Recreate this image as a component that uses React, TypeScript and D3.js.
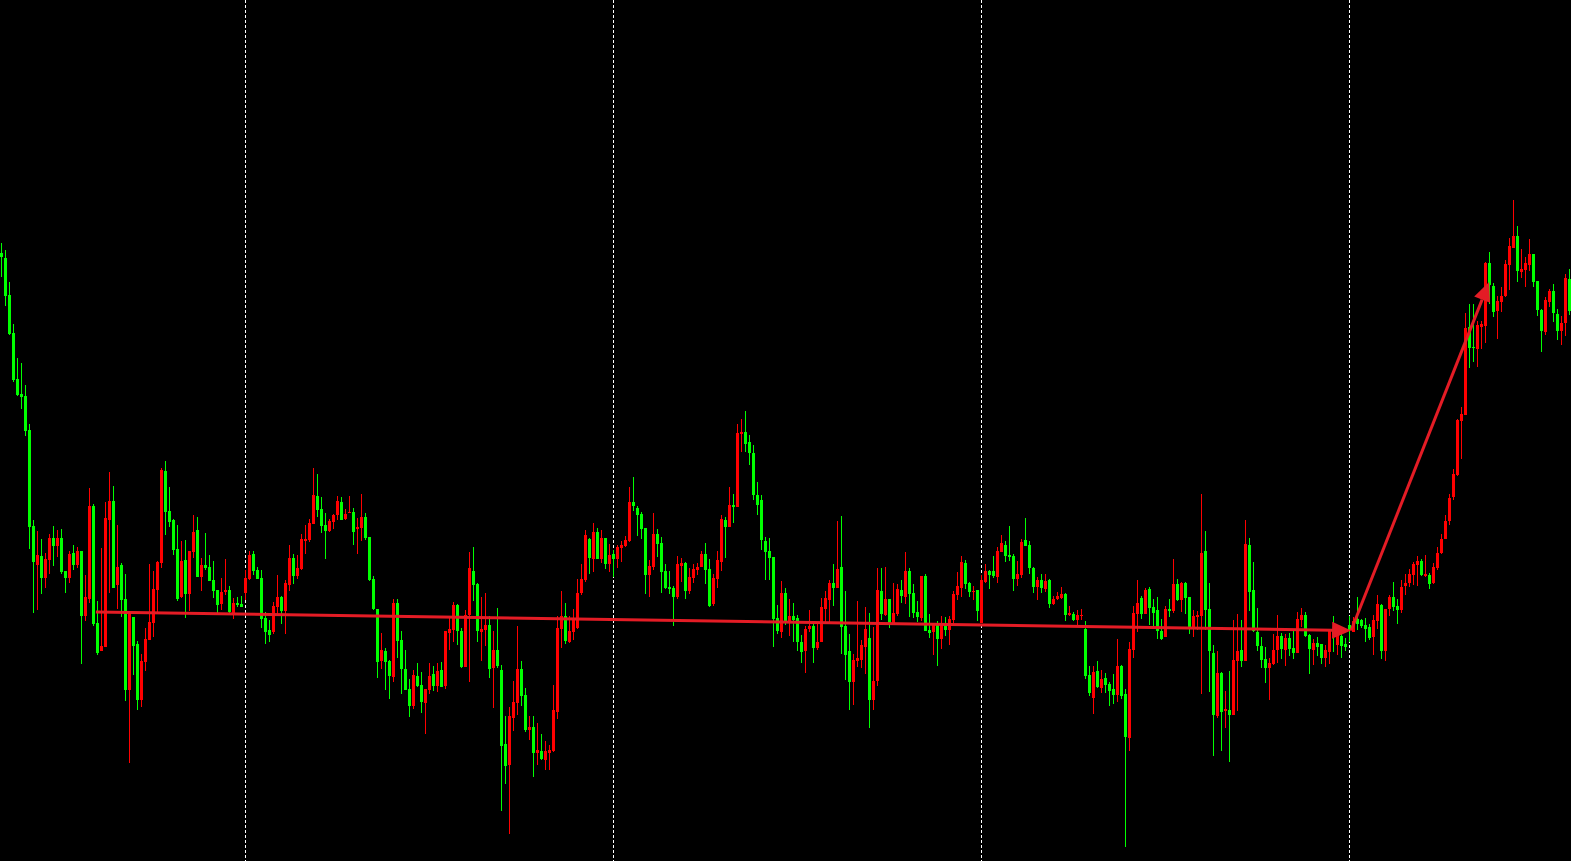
import React from "react";
import * as d3 from "d3";

const W = 1571;
const H = 861;

// price in points, one entry per bar (bar 0 = leftmost)
const opens = [
  747, 742, 705, 667, 621, 606, 604, 570, 474, 435, 444, 422, 440, 462, 454, 462, 429, 422, 447, 435,
  449, 384, 401, 494, 377, 349, 353, 480, 499, 415, 435, 401, 310, 383, 356, 300, 338, 360, 377, 410,
  437, 529, 489, 480, 451, 403, 440, 406, 448, 470, 423, 435, 433, 420, 410, 396, 408, 410, 387, 397,
  396, 407, 421, 446, 430, 422, 382, 370, 368, 393, 403, 389, 415, 442, 424, 431, 459, 460, 476, 504,
  491, 475, 469, 478, 485, 498, 481, 487, 488, 471, 472, 483, 463, 421, 391, 339, 349, 339, 323, 397,
  360, 331, 311, 294, 324, 315, 297, 310, 326, 314, 330, 314, 367, 370, 395, 369, 333, 385, 429, 416,
  368, 370, 375, 332, 350, 330, 256, 235, 282, 297, 331, 305, 270, 273, 247, 249, 240, 247, 249, 288,
  371, 384, 358, 368, 372, 407, 420, 461, 441, 468, 441, 462, 436, 446, 441, 452, 454, 459, 498, 492,
  486, 472, 425, 433, 466, 457, 429, 413, 412, 403, 434, 437, 409, 422, 430, 433, 446, 431, 396, 421,
  438, 480, 473, 495, 493, 566, 568, 558, 547, 505, 500, 459, 449, 443, 382, 368, 407, 377, 384, 382,
  358, 349, 371, 374, 352, 358, 391, 400, 417, 412, 433, 374, 349, 318, 339, 340, 353, 362, 300, 319,
  409, 385, 401, 376, 386, 410, 403, 429, 407, 388, 382, 424, 370, 368, 376, 361, 375, 370, 380, 405,
  412, 437, 417, 408, 410, 377, 418, 429, 429, 423, 448, 455, 445, 444, 421, 425, 460, 455, 432, 413,
  420, 411, 420, 396, 401, 402, 406, 385, 386, 380, 384, 371, 325, 302, 329, 312, 322, 316, 311, 305,
  334, 306, 262, 350, 386, 402, 386, 411, 393, 390, 369, 363, 391, 389, 416, 400, 417, 403, 371, 383,
  384, 449, 391, 347, 284, 327, 289, 290, 285, 339, 350, 339, 455, 410, 368, 354, 341, 332, 336, 350,
  364, 350, 362, 352, 347, 380, 385, 365, 350, 357, 356, 342, 348, 371, 355, 364, 356, 375, 368, 381,
  380, 375, 373, 363, 379, 395, 349, 391, 403, 394, 390, 414, 417, 425, 435, 439, 424, 425, 417, 432,
  447, 461, 479, 503, 525, 579, 585, 673, 653, 651, 673, 674, 737, 714, 689, 698, 704, 735, 752, 764,
  728, 730, 735, 746, 719, 690, 668, 698, 709, 686, 669, 677, 721,
];

const closes = [
  743, 704, 666, 620, 605, 603, 569, 473, 438, 445, 422, 441, 462, 454, 462, 428, 422, 446, 435, 449,
  384, 403, 494, 376, 347, 354, 482, 499, 412, 433, 400, 310, 387, 354, 300, 339, 361, 378, 411, 438,
  530, 488, 478, 450, 401, 439, 406, 449, 468, 423, 435, 432, 419, 409, 395, 408, 410, 388, 397, 395,
  393, 422, 445, 429, 421, 381, 368, 365, 394, 403, 389, 417, 442, 424, 432, 461, 461, 477, 505, 490,
  474, 469, 479, 485, 499, 480, 486, 488, 468, 473, 483, 462, 420, 391, 338, 350, 338, 324, 397, 359,
  331, 310, 294, 325, 314, 298, 311, 324, 314, 329, 313, 369, 371, 395, 369, 333, 385, 432, 415, 369,
  371, 375, 331, 350, 334, 254, 234, 284, 298, 331, 304, 270, 273, 247, 250, 241, 249, 250, 290, 372,
  384, 359, 369, 382, 407, 421, 465, 442, 468, 441, 462, 436, 445, 441, 453, 455, 460, 498, 494, 485,
  471, 425, 434, 466, 456, 428, 412, 411, 403, 436, 437, 409, 423, 431, 433, 446, 430, 394, 422, 440,
  481, 473, 495, 493, 567, 568, 556, 547, 505, 495, 460, 448, 442, 381, 369, 407, 377, 384, 380, 358,
  348, 371, 374, 352, 358, 393, 402, 417, 412, 431, 373, 345, 318, 340, 342, 355, 371, 300, 319, 410,
  386, 401, 376, 387, 411, 404, 429, 406, 387, 383, 424, 369, 367, 376, 361, 376, 370, 381, 406, 414,
  438, 416, 408, 409, 389, 420, 429, 425, 424, 449, 457, 444, 443, 421, 426, 458, 454, 432, 413, 420,
  412, 419, 396, 401, 404, 406, 385, 387, 380, 385, 385, 324, 307, 328, 313, 321, 315, 309, 305, 334,
  304, 263, 351, 387, 397, 386, 410, 392, 387, 369, 361, 391, 389, 416, 400, 417, 402, 371, 384, 385,
  447, 390, 349, 285, 327, 288, 291, 285, 340, 349, 339, 456, 408, 369, 354, 340, 332, 337, 350, 364,
  351, 362, 351, 347, 381, 385, 364, 351, 357, 353, 342, 350, 370, 365, 370, 354, 353, 370, 379, 376,
  374, 371, 362, 380, 396, 349, 391, 403, 393, 390, 413, 417, 426, 436, 439, 425, 426, 416, 433, 447,
  461, 479, 502, 526, 580, 586, 672, 652, 652, 675, 676, 737, 715, 688, 699, 704, 736, 754, 764, 729,
  731, 737, 746, 718, 690, 669, 700, 709, 687, 669, 677, 722, 689,
];

const highs = [
  757, 750, 718, 676, 642, 637, 615, 576, 480, 469, 461, 447, 466, 474, 470, 471, 429, 449, 455, 453,
  449, 425, 512, 496, 399, 452, 498, 528, 514, 475, 437, 426, 389, 383, 359, 346, 372, 436, 429, 439,
  532, 539, 513, 481, 475, 459, 460, 449, 485, 483, 442, 467, 445, 439, 410, 422, 441, 414, 402, 403,
  404, 430, 449, 449, 433, 430, 388, 380, 398, 425, 404, 420, 455, 446, 445, 466, 475, 481, 532, 526,
  503, 487, 481, 486, 504, 503, 491, 504, 492, 482, 506, 487, 463, 424, 391, 367, 352, 340, 401, 401,
  369, 350, 321, 330, 337, 328, 311, 337, 334, 337, 338, 369, 382, 398, 396, 372, 390, 448, 453, 417,
  403, 407, 384, 369, 392, 335, 284, 293, 319, 374, 339, 312, 284, 284, 277, 266, 259, 255, 315, 384,
  409, 397, 384, 391, 421, 436, 470, 462, 477, 472, 470, 462, 456, 450, 455, 459, 464, 513, 523, 494,
  488, 472, 440, 487, 471, 463, 436, 429, 414, 444, 442, 438, 432, 436, 437, 449, 457, 441, 426, 449,
  485, 483, 513, 506, 576, 581, 589, 565, 555, 518, 505, 463, 462, 443, 395, 419, 412, 401, 397, 385,
  365, 374, 390, 377, 376, 402, 409, 420, 436, 479, 484, 409, 366, 346, 399, 360, 393, 387, 373, 432,
  432, 433, 401, 417, 416, 420, 448, 432, 416, 399, 424, 426, 386, 376, 379, 384, 383, 384, 409, 428,
  444, 440, 418, 414, 410, 425, 436, 430, 444, 453, 465, 459, 474, 446, 439, 461, 482, 459, 433, 423,
  426, 426, 421, 404, 408, 413, 407, 394, 388, 390, 391, 379, 334, 334, 339, 330, 327, 318, 326, 361,
  335, 311, 358, 394, 420, 404, 412, 413, 401, 403, 381, 394, 401, 441, 421, 418, 418, 403, 390, 389,
  506, 469, 417, 355, 349, 328, 309, 329, 380, 386, 380, 480, 462, 438, 392, 363, 353, 342, 366, 385,
  367, 366, 367, 370, 388, 392, 388, 366, 361, 363, 356, 355, 371, 384, 375, 373, 362, 384, 383, 403,
  381, 382, 376, 385, 405, 396, 391, 405, 418, 401, 420, 426, 431, 438, 444, 441, 445, 427, 437, 453,
  466, 485, 506, 531, 581, 593, 687, 696, 696, 679, 679, 738, 748, 717, 704, 713, 740, 762, 800, 774,
  751, 743, 761, 746, 719, 691, 703, 711, 716, 691, 684, 726, 731,
];

const lows = [
  723, 694, 665, 618, 604, 591, 564, 451, 387, 390, 406, 412, 426, 434, 443, 426, 407, 417, 430, 432,
  336, 379, 397, 374, 345, 349, 353, 407, 412, 391, 383, 299, 237, 325, 290, 293, 329, 360, 363, 387,
  432, 465, 473, 445, 399, 402, 382, 389, 442, 423, 409, 430, 419, 402, 386, 390, 405, 387, 381, 393,
  393, 400, 420, 425, 421, 372, 356, 358, 366, 385, 376, 366, 409, 416, 421, 430, 446, 458, 476, 483,
  467, 441, 468, 471, 480, 480, 480, 487, 455, 446, 459, 460, 419, 390, 322, 331, 310, 301, 318, 342,
  306, 310, 283, 291, 313, 287, 266, 306, 309, 308, 313, 311, 350, 358, 355, 332, 333, 318, 399, 358,
  339, 354, 322, 292, 332, 189, 216, 166, 269, 285, 294, 268, 260, 223, 235, 240, 230, 230, 248, 281,
  352, 356, 357, 360, 371, 405, 418, 426, 428, 441, 437, 431, 428, 423, 432, 438, 453, 458, 489, 464,
  461, 406, 403, 430, 443, 407, 411, 406, 374, 401, 418, 401, 406, 417, 425, 433, 416, 393, 394, 412,
  429, 442, 473, 477, 493, 548, 548, 535, 500, 485, 450, 420, 420, 353, 366, 362, 375, 364, 358, 349,
  337, 327, 368, 337, 350, 358, 377, 378, 394, 412, 346, 320, 290, 295, 333, 332, 326, 272, 290, 314,
  380, 384, 372, 376, 384, 397, 396, 383, 382, 378, 379, 369, 362, 345, 334, 351, 364, 355, 374, 400,
  403, 411, 403, 400, 379, 377, 417, 411, 422, 417, 448, 438, 439, 409, 414, 422, 454, 426, 407, 400,
  407, 408, 392, 395, 400, 401, 379, 384, 379, 375, 380, 321, 304, 286, 312, 307, 307, 294, 296, 298,
  301, 153, 249, 342, 368, 381, 386, 375, 374, 361, 360, 363, 383, 387, 399, 388, 386, 366, 363, 370,
  306, 370, 308, 244, 282, 249, 272, 238, 285, 289, 333, 339, 389, 368, 349, 332, 317, 300, 335, 337,
  341, 334, 344, 341, 347, 373, 363, 326, 335, 344, 336, 333, 336, 348, 345, 342, 349, 358, 368, 370,
  372, 358, 360, 345, 371, 341, 339, 384, 389, 376, 387, 405, 413, 415, 414, 424, 423, 411, 416, 430,
  446, 461, 475, 500, 524, 541, 585, 632, 638, 633, 651, 657, 696, 683, 661, 688, 703, 710, 752, 718,
  722, 713, 729, 713, 684, 648, 665, 693, 678, 660, 655, 664, 685,
];

// bars where the vertical period separators fall
const gridBars = [61, 153, 245, 337];

// hand-drawn trend arrows: bar position and price of each vertex
const arrowBars = [23.6, 337.4, 371.9];
const arrowPrices = [388, 369.5, 718];

const UP = "#ff0000";
const DOWN = "#00ff00";
const ARROW = "#e41c25";

export default function App() {
  const n = opens.length;
  const x = d3.scaleLinear().domain([0, 392]).range([1.5, 1569.5]);
  const y = d3.scaleLinear().domain([1000, 139]).range([0, H]);

  const segs = d3.range(arrowBars.length - 1).map((k) => {
    const x1 = x(arrowBars[k]);
    const y1 = y(arrowPrices[k]);
    const x2 = x(arrowBars[k + 1]);
    const y2 = y(arrowPrices[k + 1]);
    const len = Math.hypot(x2 - x1, y2 - y1);
    const ux = (x2 - x1) / len;
    const uy = (y2 - y1) / len;
    const hl = 19;
    const hw = 8.5;
    const bx = x2 - ux * hl;
    const by = y2 - uy * hl;
    const head = [
      [x2, y2],
      [bx - uy * hw, by + ux * hw],
      [bx + uy * hw, by - ux * hw],
    ];
    return { x1, y1, bx, by, head };
  });

  return (
    <div style={{ position: "fixed", left: 0, top: 0, width: W, height: H, background: "#000" }}>
      <svg width={W} height={H} style={{ display: "block" }}>
        <rect width={W} height={H} fill="#000" />
        <g shapeRendering="crispEdges">
          {gridBars.map((b) => (
            <line
              key={b}
              x1={x(b)}
              x2={x(b)}
              y1={0}
              y2={H}
              stroke="#ffffff"
              strokeWidth={1}
              strokeDasharray="3,2"
            />
          ))}
        </g>
        <g shapeRendering="crispEdges">
          {d3.range(n).map((i) => {
            const o = opens[i];
            const c = closes[i];
            const col = c > o ? UP : DOWN;
            const xc = x(i);
            const top = y(Math.max(o, c));
            const bot = y(Math.min(o, c));
            return (
              <g key={i}>
                <rect x={xc - 0.5} width={1} y={y(highs[i])} height={y(lows[i]) - y(highs[i])} fill={col} />
                <rect x={xc - 1.5} width={3} y={top} height={Math.max(1, bot - top)} fill={col} />
              </g>
            );
          })}
        </g>
        <g>
          {segs.map((s, k) => (
            <g key={k}>
              <line x1={s.x1} y1={s.y1} x2={s.bx} y2={s.by} stroke={ARROW} strokeWidth={3} />
              <polygon points={s.head.map((p) => p.join(",")).join(" ")} fill={ARROW} />
            </g>
          ))}
        </g>
      </svg>
    </div>
  );
}
